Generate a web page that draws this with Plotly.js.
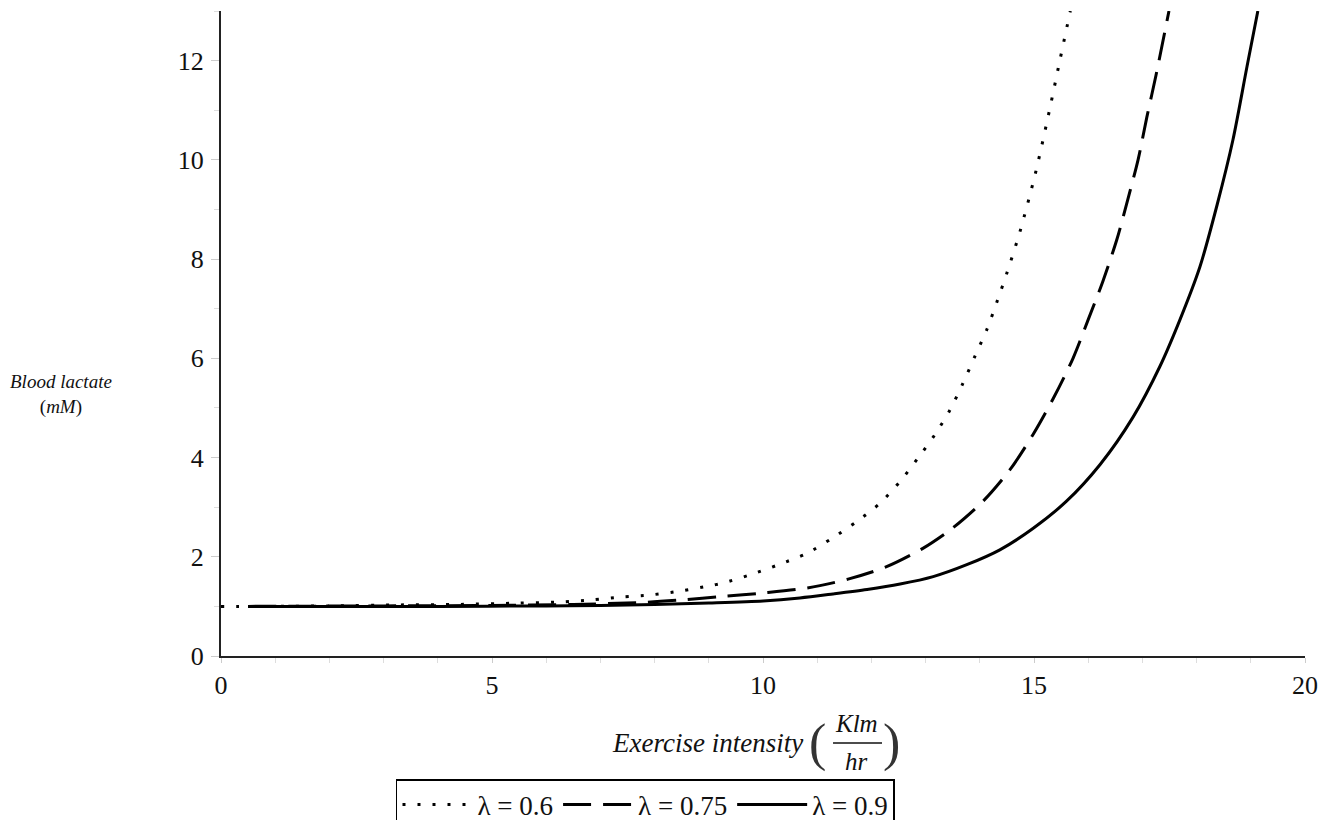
<!DOCTYPE html>
<html>
<head>
<meta charset="utf-8">
<script src="https://cdn.plot.ly/plotly-3.0.1.min.js"></script>
<style>html,body{margin:0;padding:0;background:#fff;}#chart{width:1324px;height:820px;}</style>
</head>
<body>
<div id="chart"></div>
<script>
// Exercise intensity (Klm/hr) vs blood lactate (mM)
var xDot  = [0, 1, 2, 3.3, 4.41, 5.48, 6.29, 6.84, 7.4, 7.92, 8.47, 8.99, 9.26, 9.8, 10.31, 10.81, 11.27, 11.73, 12.16, 12.53, 12.86, 13.17, 13.45, 13.69, 13.91, 14.13, 14.32, 14.5, 14.74, 15.02, 15.26, 15.48, 15.67];
var yDot  = [1.0, 1.0, 1.01, 1.03, 1.04, 1.066, 1.09, 1.13, 1.19, 1.23, 1.31, 1.41, 1.47, 1.65, 1.85, 2.07, 2.37, 2.71, 3.08, 3.52, 3.99, 4.46, 4.96, 5.5, 6.04, 6.58, 7.15, 7.72, 8.55, 9.7, 10.87, 12.02, 13.0];

var xDash = [0.5, 3, 5, 6.5, 7.8, 8.5, 9.25, 10.0, 10.81, 11.57, 12.28, 12.95, 13.5, 14.06, 14.56, 14.98, 15.35, 15.72, 16.0, 16.27, 16.53, 16.73, 16.92, 17.08, 17.25, 17.49];
var yDash = [1.0, 1.01, 1.02, 1.04, 1.08, 1.13, 1.2, 1.27, 1.37, 1.55, 1.8, 2.17, 2.58, 3.12, 3.76, 4.46, 5.18, 6.0, 6.78, 7.55, 8.4, 9.2, 10.0, 10.85, 11.7, 13.0];

var xSolid = [0.5, 2, 4, 6, 7, 8, 9, 10, 10.68, 11.29, 11.92, 12.53, 13.14, 13.76, 14.37, 14.98, 15.6, 16.22, 16.83, 17.32, 17.69, 18.06, 18.38, 18.67, 18.93, 19.13];
var ySolid = [1.0, 1.0, 1.0, 1.01, 1.02, 1.04, 1.07, 1.11, 1.17, 1.25, 1.34, 1.45, 1.6, 1.84, 2.14, 2.57, 3.12, 3.86, 4.82, 5.83, 6.77, 7.84, 9.1, 10.4, 11.88, 13.0];

var names = ["λ = 0.6", "λ = 0.75", "λ = 0.9"];
var xTicks = [0, 5, 10, 15, 20];
var yTicks = [0, 2, 4, 6, 8, 10, 12];

var serif = "Liberation Serif";

var traces = [
  {x: xDot, y: yDot, name: names[0], type: "scatter", mode: "lines", line: {color: "#000", width: 3, dash: "3px,12px", shape: "spline", smoothing: 0.8}},
  {x: xDash, y: yDash, name: names[1], type: "scatter", mode: "lines", line: {color: "#000", width: 3, dash: "28px,12px", shape: "spline", smoothing: 0.8}},
  {x: xSolid, y: ySolid, name: names[2], type: "scatter", mode: "lines", line: {color: "#000", width: 3, shape: "spline", smoothing: 0.8}}
];

var layout = {
  width: 1324, height: 820,
  margin: {l: 221, r: 19, t: 11, b: 164, autoexpand: false},
  paper_bgcolor: "#fff", plot_bgcolor: "#fff",
  font: {family: serif, size: 27, color: "#111"},
  showlegend: true,
  legend: {
    orientation: "h", x: 0.3916, xanchor: "center", y: -0.1907, yanchor: "top",
    bordercolor: "#000", borderwidth: 1.5, font: {family: serif, size: 27, color: "#111"},
    itemwidth: 70, tracegroupgap: 0
  },
  xaxis: {
    range: [0, 20], tickvals: xTicks, ticktext: xTicks.map(String),
    showgrid: false, zeroline: false, showline: true, linecolor: "#222", linewidth: 2,
    ticks: "outside", ticklen: 5, tickcolor: "#ccc", tickwidth: 1,
    minor: {dtick: 1, ticks: "outside", ticklen: 5, tickcolor: "#ddd", showgrid: false},
    tickfont: {family: serif, size: 26, color: "#111"},
    fixedrange: true
  },
  yaxis: {
    range: [0, 13], tickvals: yTicks, ticktext: yTicks.map(String),
    showgrid: false, zeroline: false, showline: true, linecolor: "#222", linewidth: 2,
    ticks: "outside", ticklen: 8, tickcolor: "#ccc", tickwidth: 1, ticklabelstandoff: 2,
    minor: {dtick: 1, ticks: "outside", ticklen: 5, tickcolor: "#ddd", showgrid: false},
    tickfont: {family: serif, size: 26, color: "#111"},
    fixedrange: true
  },
  annotations: [
    {xref: "paper", yref: "paper", x: -0.148, y: 0.406, xanchor: "center", yanchor: "middle",
     text: "<i>Blood lactate</i><br>(<i>mM</i>)", showarrow: false, align: "center",
     font: {family: serif, size: 19, color: "#111"}},
    {xref: "paper", yref: "paper", x: 0.539, y: -0.1349, xanchor: "right", yanchor: "middle",
     text: "<i>Exercise intensity</i>", showarrow: false, font: {family: serif, size: 27, color: "#111"}},
    {xref: "paper", yref: "paper", x: 0.5507, y: -0.1349, xanchor: "center", yanchor: "middle",
     text: "(", showarrow: false, font: {family: serif, size: 52, color: "#333"}},
    {xref: "paper", yref: "paper", x: 0.619, y: -0.1349, xanchor: "center", yanchor: "middle",
     text: ")", showarrow: false, font: {family: serif, size: 52, color: "#333"}},
    {xref: "paper", yref: "paper", x: 0.5867, y: -0.1039, xanchor: "center", yanchor: "middle",
     text: "<i>Klm</i>", showarrow: false, font: {family: serif, size: 25, color: "#111"}},
    {xref: "paper", yref: "paper", x: 0.5867, y: -0.1643, xanchor: "center", yanchor: "middle",
     text: "<i>hr</i>", showarrow: false, font: {family: serif, size: 25, color: "#111"}}
  ],
  shapes: [
    {type: "line", xref: "paper", yref: "paper", x0: 0.5646, x1: 0.6098, y0: -0.1349, y1: -0.1349,
     line: {color: "#111", width: 1.5}}
  ]
};

Plotly.newPlot("chart", traces, layout, {displayModeBar: false, staticPlot: true});
</script>
</body>
</html>
